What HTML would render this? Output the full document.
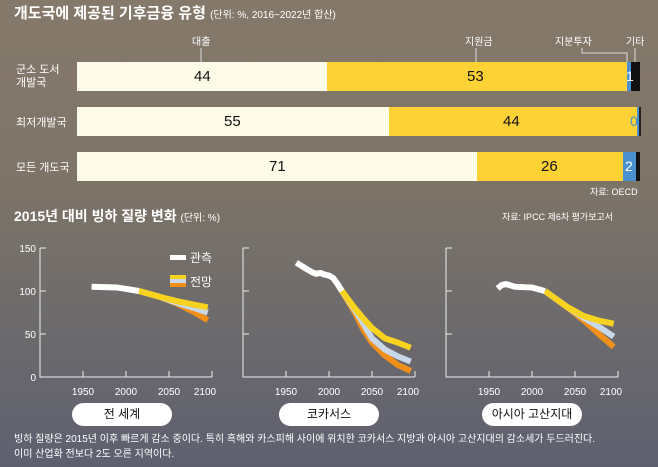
<!DOCTYPE html><html><head><meta charset="utf-8"><style>
body{margin:0;width:658px;height:467px;overflow:hidden;font-family:"Liberation Sans","Noto Sans CJK KR",sans-serif;}
.bg{position:absolute;left:0;top:0;width:658px;height:467px;background:linear-gradient(#85796b 0%,#7d7468 40%,#6c6a6c 70%,#5e6070 100%);}
.t{position:absolute;color:#fff;white-space:nowrap;}
.bar{position:absolute;height:29px;}
.n{position:absolute;font-size:15px;color:#111;top:6px;}
.pill{position:absolute;top:403px;width:100px;height:23px;border-radius:12px;background:#fff;color:#111;font-size:12px;text-align:center;line-height:23px;}
</style></head><body><div class="bg"></div>
<div class="t" style="left:14px;top:2px;font-size:15px;font-weight:bold">개도국에 제공된 기후금융 유형 <span style="font-size:10px;font-weight:normal">(단위: %, 2016~2022년 합산)</span></div>
<div class="t" style="left:192px;top:33px;font-size:10px">대출</div>
<div class="t" style="left:465px;top:33px;font-size:10px">지원금</div>
<div class="t" style="left:555px;top:33px;font-size:10px">지분투자</div>
<div class="t" style="left:626px;top:33px;font-size:10px">기타</div>
<svg style="position:absolute;left:0;top:0" width="658" height="200"><g stroke="#ddd" fill="none" stroke-width="1"><line x1="201" y1="48" x2="201" y2="62"/><line x1="476" y1="48" x2="476" y2="62"/><polyline points="582,48 582,53 627,53 627,62"/><line x1="635" y1="48" x2="635" y2="62"/></g></svg>
<div class="t" style="left:16px;top:64px;font-size:11px;line-height:13px">군소 도서<br>개발국</div>
<div class="t" style="left:16px;top:114px;font-size:11px">최저개발국</div>
<div class="t" style="left:16px;top:159px;font-size:11px">모든 개도국</div>
<div class="bar" style="top:62px;left:77px;width:250px;background:#fefbe8"><span class="n" style="left:117px">44</span></div>
<div class="bar" style="top:62px;left:327px;width:300px;background:#fdd235"><span class="n" style="left:140px">53</span></div>
<div class="bar" style="top:62px;left:627px;width:4px;background:#4a90d0"></div>
<div class="bar" style="top:62px;left:631px;width:9px;background:#111"></div>
<div class="t" style="left:626px;top:68px;font-size:14px">1</div>
<div class="bar" style="top:107px;left:77px;width:312px;background:#fefbe8"><span class="n" style="left:147px">55</span></div>
<div class="bar" style="top:107px;left:389px;width:248px;background:#fdd235"><span class="n" style="left:114px">44</span></div>
<div class="bar" style="top:107px;left:637px;width:2px;background:#4a90d0"></div>
<div class="bar" style="top:107px;left:639px;width:2px;background:#222"></div>
<div class="t" style="left:630px;top:113px;font-size:14px;color:#4a90d0">0</div>
<div class="bar" style="top:152px;left:77px;width:400px;background:#fefbe8"><span class="n" style="left:192px">71</span></div>
<div class="bar" style="top:152px;left:477px;width:146px;background:#fdd235"><span class="n" style="left:64px">26</span></div>
<div class="bar" style="top:152px;left:623px;width:13px;background:#4a90d0"></div>
<div class="bar" style="top:152px;left:636px;width:4px;background:#111"></div>
<div class="t" style="left:625px;top:158px;font-size:14px">2</div>
<div class="t" style="left:590px;top:185px;font-size:9px">자료: OECD</div>
<div class="t" style="left:14px;top:206px;font-size:14px;font-weight:bold">2015년 대비 빙하 질량 변화 <span style="font-size:10px;font-weight:normal">(단위: %)</span></div>
<div class="t" style="left:502px;top:210px;font-size:9px">자료: IPCC 제6차 평가보고서</div>
<svg style="position:absolute;left:0;top:0" width="658" height="467" font-family="Liberation Sans" font-size="10" fill="#fff">
<g stroke="#eee" stroke-width="1" fill="none">
<path d="M40 248V377H212M40 248h6M40 291h6M40 334h6M83 377v-6M126 377v-6M169 377v-6M212 377v-6"/>
<path d="M243 248V377H415M243 248h6M243 291h6M243 334h6M286 377v-6M329 377v-6M372 377v-6M415 377v-6"/>
<path d="M446 248V377H618M446 248h6M446 291h6M446 334h6M489 377v-6M532 377v-6M575 377v-6M618 377v-6"/>
</g>
<g text-anchor="end"><text x="36" y="252">150</text><text x="36" y="295">100</text><text x="36" y="338">50</text><text x="36" y="381">0</text></g>
<g text-anchor="middle"><text x="83" y="395">1950</text><text x="126" y="395">2000</text><text x="169" y="395">2050</text><text x="205" y="395">2100</text>
<text x="286" y="395">1950</text><text x="329" y="395">2000</text><text x="372" y="395">2050</text><text x="408" y="395">2100</text>
<text x="489" y="395">1950</text><text x="532" y="395">2000</text><text x="575" y="395">2050</text><text x="611" y="395">2100</text></g>
<g fill="none" stroke-width="6" stroke-linejoin="round">
<g transform="translate(-1594,377) scale(0.86,-0.86)">
<polyline stroke="#f0901a" points="2015,100 2040,93 2060,85 2080,75 2095,66" vector-effect="non-scaling-stroke"/>
<polyline stroke="#c9d8e8" points="2015,100 2040,93 2060,86 2080,80 2095,75" vector-effect="non-scaling-stroke"/>
<polyline stroke="#f7d21e" points="2015,100 2040,93 2060,88 2080,84 2095,81" vector-effect="non-scaling-stroke"/>
<polyline stroke="#fff" points="1960,105 1990,104 2015,100" vector-effect="non-scaling-stroke"/>
</g>
<g transform="translate(-1391,377) scale(0.86,-0.86)">
<polyline stroke="#f0901a" points="2015,100 2030,75 2040,55 2050,40 2065,25 2080,14 2095,7" vector-effect="non-scaling-stroke"/>
<polyline stroke="#c9d8e8" points="2015,100 2030,78 2040,62 2050,45 2065,32 2080,24 2095,18" vector-effect="non-scaling-stroke"/>
<polyline stroke="#f7d21e" points="2015,100 2030,80 2040,68 2050,57 2065,45 2080,40 2095,34" vector-effect="non-scaling-stroke"/>
<polyline stroke="#fff" points="1962,133 1970,128 1980,122 1985,120 1990,121 1995,119 2000,118 2005,115 2010,108 2015,100" vector-effect="non-scaling-stroke"/>
</g>
<g transform="translate(-1188,377) scale(0.86,-0.86)">
<polyline stroke="#f0901a" points="2015,100 2040,82 2060,66 2080,48 2095,35" vector-effect="non-scaling-stroke"/>
<polyline stroke="#c9d8e8" points="2015,100 2040,82 2060,69 2080,57 2095,47" vector-effect="non-scaling-stroke"/>
<polyline stroke="#f7d21e" points="2015,100 2040,82 2060,71 2080,65 2095,62" vector-effect="non-scaling-stroke"/>
<polyline stroke="#fff" points="1960,103 1965,107 1970,108 1980,105 2000,104 2015,100" vector-effect="non-scaling-stroke"/>
</g>
</g>
<rect x="170" y="255" width="16" height="5" fill="#fff"/><text x="190" y="262" font-size="12" font-family="Liberation Sans,Noto Sans CJK KR">관측</text>
<rect x="170" y="275" width="16" height="4" fill="#f7d21e"/><rect x="170" y="279" width="16" height="4" fill="#c9d8e8"/><rect x="170" y="283" width="16" height="4" fill="#f0901a"/>
<text x="190" y="286" font-size="12" font-family="Liberation Sans,Noto Sans CJK KR">전망</text>
</svg>
<div class="pill" style="left:72px">전 세계</div>
<div class="pill" style="left:279px">코카서스</div>
<div class="pill" style="left:482px">아시아 고산지대</div>
<div class="t" style="left:14px;top:432px;font-size:10px;line-height:15px">빙하 질량은 2015년 이후 빠르게 감소 중이다. 특히 흑해와 카스피해 사이에 위치한 코카서스 지방과 아시아 고산지대의 감소세가 두드러진다.<br>이미 산업화 전보다 2도 오른 지역이다.</div>
</body></html>
